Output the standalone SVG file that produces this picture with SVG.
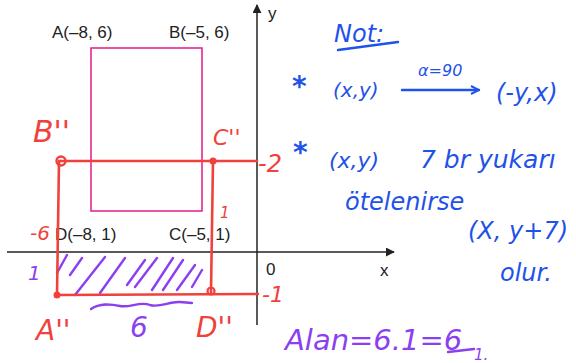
<svg xmlns="http://www.w3.org/2000/svg" width="576" height="363" viewBox="0 0 576 363">
<style>
.ax{stroke:#222;stroke-width:1.5;fill:none}
.lbl{font-family:"Liberation Sans",Arial,sans-serif;font-size:17px;fill:#222}
.red{stroke:#f0413c;stroke-width:2.6;fill:none;stroke-linecap:round}
.rt{font-family:"DejaVu Sans","Liberation Sans",sans-serif;font-style:italic;fill:#f0413c}
.bt{font-family:"DejaVu Sans","Liberation Sans",sans-serif;font-style:italic;fill:#1f52e8}
.pt{font-family:"DejaVu Sans","Liberation Sans",sans-serif;font-style:italic;fill:#8b3ff0}
.pur{stroke:#8b3ff0;stroke-width:2.4;fill:none;stroke-linecap:round}
.blu{stroke:#1f52e8;stroke-width:2.4;fill:none;stroke-linecap:round}
</style>
<defs>
<marker id="ah" viewBox="0 0 10 10" refX="9" refY="5" markerWidth="9" markerHeight="9" markerUnits="userSpaceOnUse" orient="auto"><path d="M0,0 L10,5 L0,10 Z" fill="#222"/></marker>
<marker id="bh" viewBox="0 0 10 10" refX="9" refY="5" markerWidth="10" markerHeight="10" markerUnits="userSpaceOnUse" orient="auto"><path d="M1,1 L9,5 L1,9" fill="none" stroke="#1f52e8" stroke-width="2"/></marker>
</defs>
<rect width="576" height="363" fill="#fff"/>
<g id="axes">
<line class="ax" x1="257" y1="325" x2="257" y2="5" marker-end="url(#ah)"/>
<line class="ax" x1="7" y1="252" x2="394" y2="252" marker-end="url(#ah)"/>
<text class="lbl" x="268" y="19" font-size="18">y</text>
<text class="lbl" x="380" y="276" font-size="18">x</text>
<text class="lbl" x="266" y="275">0</text>
</g>
<g id="rect-ABCD">
<rect x="91" y="48" width="111" height="163" fill="none" stroke="#e6198c" stroke-width="1.5"/>
<text class="lbl" x="52" y="38">A(–8, 6)</text>
<text class="lbl" x="169" y="38">B(–5, 6)</text>
<text class="lbl" x="55" y="240">D(–8, 1)</text>
<text class="lbl" x="169" y="240">C(–5, 1)</text>
</g>
<g id="hatch">
<path class="pur" d="M57,273 L67,255 M70,275 L82,258 M75,295 L105,257 M100,293 L125,258 M127,285 L145,260 M135,287 L157,258 M152,290 L173,258 M163,290 L183,260 M177,290 L195,265 M192,287 L202,270"/>
<path class="pur" d="M91,309 C100,303 110,304 120,306 C130,308 140,301 150,305 C160,308 170,301 180,302 L192,303"/>
<text class="pt" x="28" y="280" font-size="20">1</text>
<text class="pt" x="130" y="337" font-size="28">6</text>
</g>
<g id="rect-image">
<line class="red" x1="59" y1="161" x2="257" y2="161"/>
<line class="red" x1="59" y1="161" x2="57" y2="295"/>
<line class="red" x1="213" y1="161" x2="211" y2="292"/>
<line class="red" x1="57" y1="295" x2="258" y2="294"/>
<circle cx="61" cy="161" r="4.5" fill="none" stroke="#f0413c" stroke-width="2.4"/>
<circle cx="213" cy="161" r="3.5" fill="#f0413c"/>
<circle cx="57" cy="295" r="3.5" fill="#f0413c"/>
<circle cx="211" cy="291" r="3.5" fill="none" stroke="#f0413c" stroke-width="2.2"/>
<text class="rt" x="33" y="142" font-size="30">B''</text>
<text class="rt" x="213" y="145" font-size="22">C''</text>
<text class="rt" x="258" y="172" font-size="24">-2</text>
<text class="rt" x="30" y="240" font-size="20">-6</text>
<text class="rt" x="220" y="218" font-size="15">1</text>
<text class="rt" x="262" y="302" font-size="22">-1</text>
<text class="rt" x="36" y="340" font-size="28">A''</text>
<text class="rt" x="196" y="337" font-size="28">D''</text>
</g>
<g id="note">
<text class="bt" x="334" y="42" font-size="24">Not:</text>
<path class="blu" d="M338,50 L398,42"/>
<text class="bt" x="292" y="96" font-size="28" font-weight="bold">*</text>
<text class="bt" x="333" y="97" font-size="20">(x,y)</text>
<line class="blu" x1="402" y1="90" x2="479" y2="90" marker-end="url(#bh)"/>
<text class="bt" x="418" y="76" font-size="16">α=90</text>
<text class="bt" x="496" y="101" font-size="24">(-y,x)</text>
<text class="bt" x="293" y="162" font-size="28" font-weight="bold">*</text>
<text class="bt" x="329" y="168" font-size="22">(x,y)</text>
<text class="bt" x="420" y="168" font-size="25">7 br yukarı</text>
<text class="bt" x="345" y="210" font-size="24">ötelenirse</text>
<text class="bt" x="468" y="239" font-size="24">(X, y+7)</text>
<text class="bt" x="500" y="281" font-size="24">olur.</text>
</g>
<g id="area">
<text class="pt" x="285" y="350" font-size="29">Alan=6.1=6</text>
<path class="pur" d="M448,352 L474,349"/>
<text class="pt" x="474" y="360" font-size="15">1.</text>
</g>
</svg>
